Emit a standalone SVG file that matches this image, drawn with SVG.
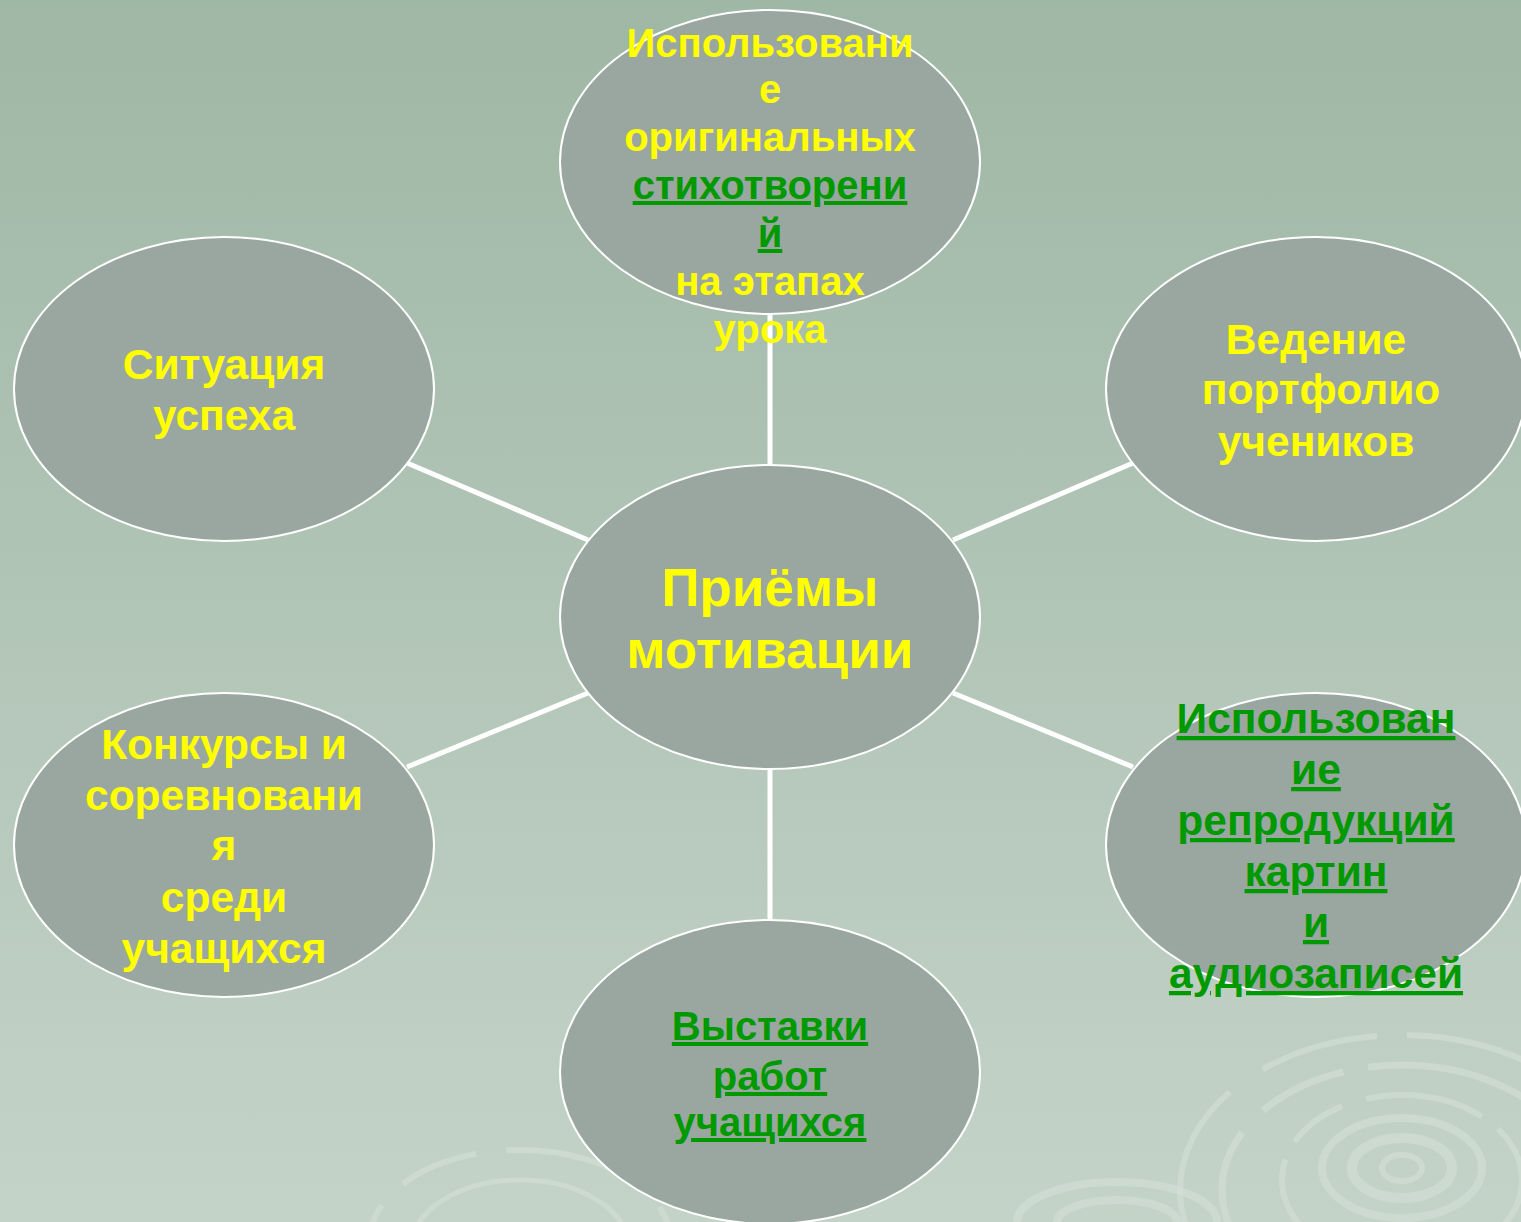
<svg xmlns="http://www.w3.org/2000/svg" width="1521" height="1222" viewBox="0 0 1521 1222">
<defs>
<linearGradient id="bg" x1="0" y1="0" x2="0" y2="1">
<stop offset="0" stop-color="#9fb7a5"/>
<stop offset="1" stop-color="#c4d3c8"/>
</linearGradient>
<style>
.node{fill:#9aa7a0;stroke:#ffffff;stroke-width:2}
.conn{stroke:#ffffff;stroke-width:5;fill:none}
.t{font-family:"Liberation Sans",Arial,sans-serif;font-weight:bold;font-size:40px;text-anchor:middle}
.m{font-size:42.5px}
.y{fill:#ffff00}
.g{fill:#009900;text-decoration:underline}
.big{font-size:53px}
.sw{fill:none;stroke:#d4e0d7;opacity:0.6}
</style>
</defs>
<rect width="1521" height="1222" fill="url(#bg)"/>
<g id="swirls">
<ellipse class="sw" cx="1402" cy="1168" rx="20" ry="13" stroke-width="6"/>
<ellipse class="sw" cx="1402" cy="1168" rx="50" ry="30" stroke-width="10"/>
<ellipse class="sw" cx="1402" cy="1168" rx="80" ry="50" stroke-width="8"/>
<ellipse class="sw" cx="1402" cy="1180" rx="120" ry="85" stroke-width="6" stroke-dasharray="120 20 60 25"/>
<ellipse class="sw" cx="1402" cy="1190" rx="180" ry="125" stroke-width="7" stroke-dasharray="200 30 90 25"/>
<ellipse class="sw" cx="1402" cy="1190" rx="222" ry="155" stroke-width="6" stroke-dasharray="260 40 120 30"/>
<ellipse class="sw" cx="1117" cy="1222" rx="60" ry="22" stroke-width="8"/>
<ellipse class="sw" cx="1117" cy="1222" rx="100" ry="40" stroke-width="8"/>
<ellipse class="sw" cx="520" cy="1240" rx="150" ry="90" stroke-width="6" stroke-dasharray="140 30 80 30"/>
<ellipse class="sw" cx="520" cy="1250" rx="110" ry="70" stroke-width="5"/>
</g>
<g id="connectors">
<line class="conn" x1="770" y1="314" x2="770" y2="465"/>
<line class="conn" x1="770" y1="769" x2="770" y2="920"/>
<line class="conn" x1="407" y1="463" x2="588" y2="540"/>
<line class="conn" x1="953" y1="540" x2="1133" y2="463"/>
<line class="conn" x1="407" y1="767" x2="588" y2="693"/>
<line class="conn" x1="953" y1="693" x2="1133" y2="767"/>
</g>
<g id="node-top">
<ellipse class="node" cx="770" cy="162" rx="210" ry="152"/>
</g>
<g id="node-left-upper">
<ellipse class="node" cx="224" cy="389" rx="210" ry="152"/>
<text class="t m y" x="224" y="379">Ситуация</text>
<text class="t m y" x="224" y="430">успеха</text>
</g>
<g id="node-right-upper">
<ellipse class="node" cx="1316" cy="389" rx="210" ry="152"/>
<text class="t m y" x="1316" y="354">Ведение</text>
<text class="t m y" x="1321" y="404">портфолио</text>
<text class="t m y" x="1316" y="456">учеников</text>
</g>
<g id="node-center">
<ellipse class="node" cx="770" cy="617" rx="210" ry="152"/>
<text class="t y big" x="770" y="606">Приёмы</text>
<text class="t y big" x="770" y="668">мотивации</text>
</g>
<g id="node-left-lower">
<ellipse class="node" cx="224" cy="845" rx="210" ry="152"/>
<text class="t m y" x="224" y="759">Конкурсы и</text>
<text class="t m y" x="224" y="810">соревновани</text>
<text class="t m y" x="224" y="860">я</text>
<text class="t m y" x="224" y="912">среди</text>
<text class="t m y" x="224" y="963">учащихся</text>
</g>
<g id="node-right-lower">
<ellipse class="node" cx="1316" cy="845" rx="210" ry="152"/>
<text class="t m g" x="1316" y="733">Использован</text>
<text class="t m g" x="1316" y="784">ие</text>
<text class="t m g" x="1316" y="835">репродукций</text>
<text class="t m g" x="1316" y="886">картин</text>
<text class="t m g" x="1316" y="937">и</text>
<text class="t m g" x="1316" y="988">аудиозаписей</text>
</g>
<g id="node-bottom">
<ellipse class="node" cx="770" cy="1072" rx="210" ry="152"/>
<text class="t g" x="770" y="1040">Выставки</text>
<text class="t g" x="770" y="1090">работ</text>
<text class="t g" x="770" y="1136">учащихся</text>
</g>
<g id="node-top-text">
<text class="t y" x="770" y="57">Использовани</text>
<text class="t y" x="770" y="103">е</text>
<text class="t y" x="770" y="151">оригинальных</text>
<text class="t g" x="770" y="199">стихотворени</text>
<text class="t g" x="770" y="247">й</text>
<text class="t y" x="770" y="295">на этапах</text>
<text class="t y" x="770" y="343">урока</text>
</g>
</svg>
